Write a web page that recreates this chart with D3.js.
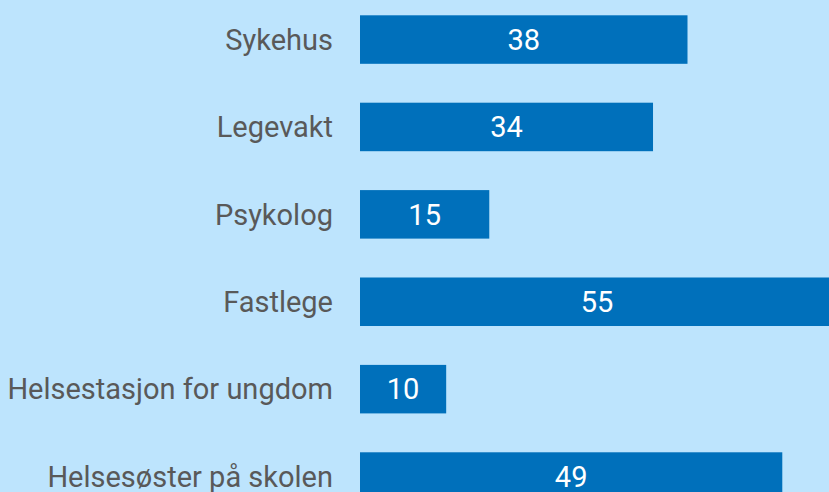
<!DOCTYPE html>
<html>
<head>
<meta charset="utf-8">
<script src="https://cdn.jsdelivr.net/npm/d3@7"></script>
<style>
  html, body { margin: 0; padding: 0; background: #bde4fd; }
  svg { display: block; }
</style>
</head>
<body>
<svg id="chart" width="829" height="492"></svg>
<script>
// Where young people sought help (share, %)
const categories = [
  "Sykehus",
  "Legevakt",
  "Psykolog",
  "Fastlege",
  "Helsestasjon for ungdom",
  "Helsesøster på skolen"
];
const values = [38, 34, 15, 55, 10, 49];

const width = 829, height = 492;
const svg = d3.select("#chart");

svg.append("rect")
  .attr("width", width)
  .attr("height", height)
  .attr("fill", "#bde4fd");

const x = d3.scaleLinear()
  .domain([0, 55])
  .range([360, 834]);

const y = d3.scaleBand()
  .domain(categories)
  .range([15.3, 500.8])
  .paddingInner(0.445)
  .paddingOuter(0);

const rows = categories.map((c, i) => ({ cat: c, val: values[i] }));

svg.append("g")
  .selectAll("rect")
  .data(rows)
  .join("rect")
  .attr("x", x(0))
  .attr("y", d => y(d.cat))
  .attr("width", d => x(d.val) - x(0))
  .attr("height", y.bandwidth())
  .attr("fill", "#0070bb");

// Category labels, right-aligned against the bars
svg.append("g")
  .selectAll("text")
  .data(rows)
  .join("text")
  .attr("x", 333)
  .attr("y", d => y(d.cat) + y.bandwidth() / 2)
  .attr("dy", "0.35em")
  .attr("text-anchor", "end")
  .attr("font-family", "Roboto, 'Liberation Sans', Arial, sans-serif")
  .attr("font-size", 29)
  .attr("fill", "#595959")
  .text(d => d.cat);

// Value labels centred in each bar
svg.append("g")
  .selectAll("text")
  .data(rows)
  .join("text")
  .attr("x", d => (x(0) + x(d.val)) / 2)
  .attr("y", d => y(d.cat) + y.bandwidth() / 2)
  .attr("dy", "0.35em")
  .attr("text-anchor", "middle")
  .attr("font-family", "Roboto, 'Liberation Sans', Arial, sans-serif")
  .attr("font-size", 29)
  .attr("fill", "#ffffff")
  .text(d => d.val);
</script>
</body>
</html>
